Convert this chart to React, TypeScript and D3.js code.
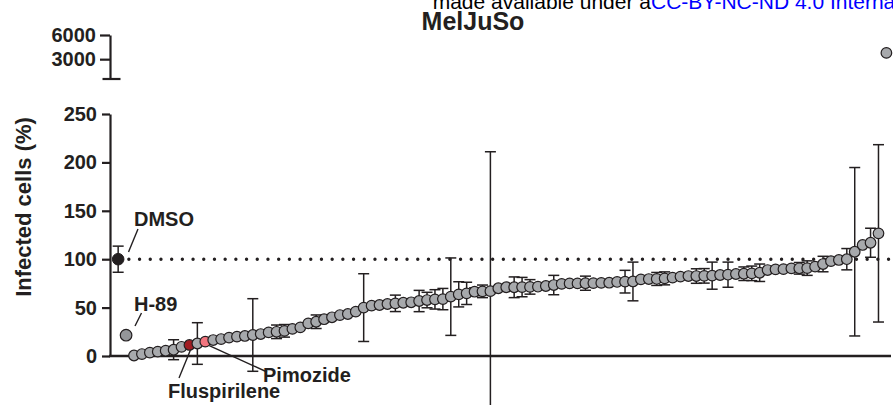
import { useEffect, useRef } from 'react';
import * as d3 from 'd3';

// sorted screen hits (% infected, normalised to DMSO), last one sits on the broken upper axis
const values = [
  0.5, 2, 3.5, 4.5, 5.5, 6.5, 9.5, 11.4, 12.9, 14.8,
  16.5, 17.5, 19, 20, 20.7, 21.7, 22.7, 24.4, 25, 26,
  28, 29.6, 33.7, 35.4, 38, 40, 42.3, 43.4, 45.8, 50,
  52, 52.7, 53.7, 54.4, 55, 55.5, 56.8, 57.8, 58.5, 58.8,
  61.3, 63.7, 64.7, 66.4, 66.8, 67, 70, 71, 71, 71.2,
  71.4, 71.6, 72.3, 73.3, 74.5, 75, 75, 75.2, 75.3, 75.5,
  75.7, 76.5, 76.8, 77, 79.2, 79.5, 79.6, 80.2, 81, 82,
  82.6, 82.6, 82.8, 83, 83.7, 84, 84.7, 85, 85.4, 86,
  88.8, 89.5, 89.7, 90.5, 90.6, 90.8, 92.3, 95, 98, 99.2,
  100, 107.7, 114.7, 117, 126.7, 3780
];
const errors = [
  0, 0, 0, 0, 0, 10.3, 0, 0, 21.5, 0,
  0, 0, 0, 0, 0, 37.5, 0, 0, 7, 6.5,
  0, 0, 0, 7, 0, 0, 0, 0, 0, 35,
  0, 0, 0, 8.5, 0, 0, 11, 8, 10, 11,
  40, 13, 11.5, 4, 6.5, 144, 0, 0, 10.7, 10,
  7.5, 0, 0, 10, 0, 0, 0, 7.3, 0, 0,
  0, 0, 11.7, 20, 0, 0, 6.7, 6.7, 0, 0,
  0, 7.5, 7.5, 14, 0, 13, 0, 7, 7.5, 9,
  0, 0, 0, 0, 6, 7.5, 0, 8, 0, 0,
  11, 87, 0, 15, 91.6, 0
];
const highlight = { 7: 'Fluspirilene', 9: 'Pimozide' };
const controls = [
  { name: 'DMSO', value: 100, error: 13.5 },
  { name: 'H-89', value: 21.5, error: 0 }
];
const lowTicks = [0, 50, 100, 150, 200, 250];
const highTicks = [3000, 6000];

const ink = '#231f20';
const font = '"Liberation Sans", Arial, Helvetica, sans-serif';

export default function App() {
  const svgRef = useRef(null);

  useEffect(() => {
    const svg = d3.select(svgRef.current);
    svg.selectAll('*').remove();

    const x = d3.scaleLinear().domain([0, values.length - 1]).range([134, 886.4]);
    const yLow = d3.scaleLinear().domain([0, 250]).range([356, 114]);
    const yHigh = d3.scaleLinear().domain([540, 6000]).range([79, 35]);
    const y = v => (v > 250 ? yHigh(v) : yLow(v));
    const axisX = 110;

    // header text (clipped at the top like the preprint page)
    svg.append('text')
      .attr('x', 651).attr('y', 9)
      .attr('text-anchor', 'end')
      .style('font-family', font).style('font-size', '21px').style('fill', '#000')
      .text('made available under a');
    svg.append('text')
      .attr('x', 651).attr('y', 9)
      .style('font-family', font).style('font-size', '21px').style('fill', '#0000ff')
      .text('CC-BY-NC-ND 4.0 International license');

    svg.append('text')
      .attr('x', 473).attr('y', 30)
      .attr('text-anchor', 'middle')
      .style('font-family', font).style('font-size', '25px').style('font-weight', 'bold').style('fill', ink)
      .text('MelJuSo');

    // y axis title
    svg.append('text')
      .attr('transform', `translate(31, 207) rotate(-90)`)
      .attr('text-anchor', 'middle')
      .style('font-family', font).style('font-size', '22px').style('font-weight', 'bold').style('fill', ink)
      .text('Infected cells (%)');

    // lower axis segment
    const low = svg.append('g')
      .attr('transform', `translate(${axisX},0)`)
      .call(d3.axisLeft(yLow).tickValues(lowTicks).tickSize(8).tickPadding(5).tickSizeOuter(0));
    low.select('.domain').attr('stroke', ink).attr('stroke-width', 2.2);
    low.selectAll('.tick line').attr('stroke', ink).attr('stroke-width', 2.2);
    low.selectAll('.tick text')
      .style('font-family', font).style('font-size', '20px').style('font-weight', 'bold').style('fill', ink);

    // upper (broken) axis segment
    const high = svg.append('g')
      .attr('transform', `translate(${axisX},0)`)
      .call(d3.axisLeft(yHigh).tickValues(highTicks).tickFormat(d3.format('d')).tickSize(10).tickPadding(4).tickSizeOuter(0));
    high.select('.domain').attr('stroke', ink).attr('stroke-width', 2.2);
    high.selectAll('.tick line').attr('stroke', ink).attr('stroke-width', 2.2);
    high.selectAll('.tick text')
      .style('font-family', font).style('font-size', '20px').style('font-weight', 'bold').style('fill', ink);
    svg.append('line')
      .attr('x1', 102.5).attr('x2', 120.5)
      .attr('y1', yHigh(540)).attr('y2', yHigh(540))
      .attr('stroke', ink).attr('stroke-width', 2.2);

    // x axis baseline
    svg.append('line')
      .attr('x1', axisX - 1).attr('x2', 891)
      .attr('y1', yLow(0)).attr('y2', yLow(0))
      .attr('stroke', ink).attr('stroke-width', 2.4);

    // DMSO reference level
    svg.append('line')
      .attr('x1', x(-2)).attr('x2', 893)
      .attr('y1', yLow(100)).attr('y2', yLow(100))
      .attr('stroke', ink).attr('stroke-width', 3.4)
      .attr('stroke-linecap', 'round')
      .attr('stroke-dasharray', '0 10.7');

    const capW = 5.5;
    const drawError = (cx, v, e) => {
      const g = svg.append('g').attr('stroke', ink).attr('stroke-width', 1.5);
      g.append('line').attr('x1', cx).attr('x2', cx).attr('y1', yLow(v + e)).attr('y2', yLow(v - e));
      g.append('line').attr('x1', cx - capW).attr('x2', cx + capW).attr('y1', yLow(v + e)).attr('y2', yLow(v + e));
      g.append('line').attr('x1', cx - capW).attr('x2', cx + capW).attr('y1', yLow(v - e)).attr('y2', yLow(v - e));
    };

    // error bars behind the dots
    values.forEach((v, i) => {
      if (errors[i] > 0) drawError(x(i), v, errors[i]);
    });
    controls.forEach((c, i) => {
      if (c.error > 0) drawError(x(i - 2), c.value, c.error);
    });

    svg.append('g')
      .selectAll('circle')
      .data(values)
      .enter()
      .append('circle')
      .attr('cx', (d, i) => x(i))
      .attr('cy', d => y(d))
      .attr('r', 5.3)
      .attr('fill', (d, i) => (i === 7 ? '#a11c22' : i === 9 ? '#f2757f' : '#a7a9ac'))
      .attr('stroke', ink)
      .attr('stroke-width', 1.2);

    svg.append('circle')
      .attr('cx', x(-2)).attr('cy', yLow(controls[0].value)).attr('r', 5.8)
      .attr('fill', ink).attr('stroke', ink);
    svg.append('circle')
      .attr('cx', x(-1)).attr('cy', yLow(controls[1].value)).attr('r', 5.8)
      .attr('fill', '#949699').attr('stroke', ink).attr('stroke-width', 1.2);

    // annotations
    const label = (tx, ty, text) => svg.append('text')
      .attr('x', tx).attr('y', ty)
      .style('font-family', font).style('font-size', '20px').style('font-weight', 'bold').style('fill', ink)
      .text(text);
    const leader = (x1, y1, x2, y2) => svg.append('line')
      .attr('x1', x1).attr('y1', y1).attr('x2', x2).attr('y2', y2)
      .attr('stroke', ink).attr('stroke-width', 1.4);

    label(134, 226, controls[0].name);
    leader(128.5, 252, 138, 229);
    label(134, 311, controls[1].name);
    leader(135, 326, 141.5, 313);
    label(168, 398, highlight[7]);
    leader(x(7) + 1, yLow(values[7]) + 5, 179, 378);
    label(263, 382, highlight[9]);
    leader(x(9) + 4, yLow(values[9]) + 4, 267, 372);
  }, []);

  return (
    <svg
      ref={svgRef}
      width={893}
      height={405}
      style={{ position: 'absolute', left: 0, top: 0, background: '#fff' }}
    />
  );
}
